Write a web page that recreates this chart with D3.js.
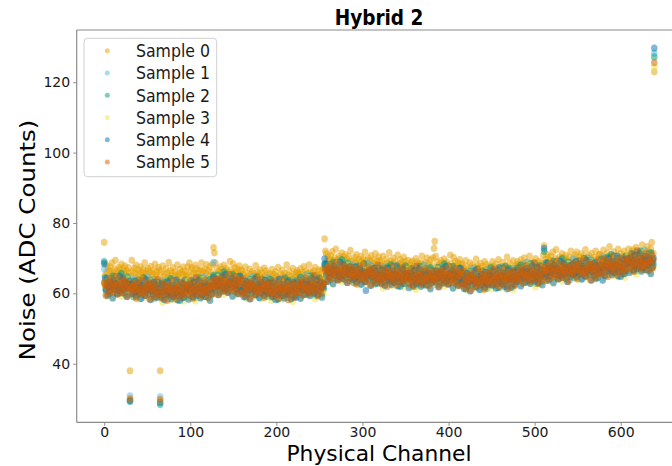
<!DOCTYPE html>
<html><head><meta charset="utf-8">
<script src="https://cdn.jsdelivr.net/npm/d3@7"></script>
<style>body{margin:0;background:#fff}svg{display:block}</style>
</head><body>
<svg id="chart" width="672" height="466"></svg>
<script>
const seriesNames = ["Sample 0","Sample 1","Sample 2","Sample 3","Sample 4","Sample 5"];
const seriesColors = ["#E69F00","#56B4E9","#009E73","#F0E442","#0072B2","#D55E00"];
const xTicks = [0,100,200,300,400,500,600];
const yTicks = [40,60,80,100,120];

const sample0Rows = [
[74.5,65.1,68.1,65.9,67.2,63.7,66.4,67.6,65.5,68.7,66.1,64.8,66.9,69.4,65.4,66.3,64.4,67.4,66.7,65.7,68.3,63.3,67.1,66.2,67.8,65.2,66.5,64.1,67.3,65.8,38.0,64.9],
[69.4,66.3,63.7,67.2,65.8,68.0,64.5,65.5,66.6,63.0,67.5,66.0,64.9,66.8,65.7,68.7,64.2,66.4,65.4,67.0,63.4,66.1,67.7,64.8,65.6,66.5,64.0,68.3,65.2,66.2,64.7,67.4],
[66.6,38.0,66.1,63.8,67.8,64.7,65.5,63.0,67.0,65.9,64.4,68.8,65.0,66.4,64.1,65.7,67.3,63.5,66.2,65.2,64.5,68.1,64.8,65.6,66.8,63.2,66.0,65.4,67.5,64.0,66.3,64.9],
[65.5,67.5,64.9,68.7,63.0,66.8,67.3,65.3,65.9,64.1,68.0,65.6,67.0,64.7,66.4,63.7,66.7,68.7,65.2,66.2,64.4,66.9,65.7,68.2,64.0,66.5,65.0,67.6,66.0,63.3,68.3,73.0],
[71.5,68.7,65.5,67.0,63.8,66.2,64.9,67.5,65.9,66.8,63.0,68.0,65.4,66.4,67.1,64.1,66.0,65.1,69.1,66.6,64.5,65.8,68.4,65.2,67.3,66.1,63.4,66.9,65.6,67.8,64.8,66.3],
[66.6,63.9,65.4,64.4,67.5,63.2,65.7,64.8,64.0,66.9,65.3,62.6,66.2,64.6,65.6,63.4,67.9,64.9,66.0,64.1,65.2,66.7,62.2,65.8,64.7,63.7,67.2,65.0,66.4,62.9,65.5,64.3],
[64.2,65.6,63.3,66.8,64.7,65.3,62.5,66.1,64.9,64.1,67.4,63.8,64.5,65.5,62.8,66.6,65.0,63.4,65.7,64.3,68.1,63.7,65.2,66.3,62.3,64.8,64.0,67.1,63.1,65.4,64.6,65.9],
[66.5,65.7,62.7,65.4,67.0,64.4,65.9,63.4,67.6,65.1,66.3,63.8,65.6,64.6,68.1,66.1,63.1,65.8,64.1,66.4,65.0,67.4,63.5,65.3,64.7,66.7,66.2,62.4,65.5,64.3,66.9,64.9],
[75.5,72.0,71.3,69.1,70.4,66.9,69.6,70.8,68.7,71.9,69.3,68.0,70.1,72.6,68.6,69.5,67.6,70.6,69.9,68.9,71.5,66.5,70.3,69.4,71.0,68.4,69.7,67.3,70.5,69.0,72.2,68.1],
[68.1,69.3,66.7,70.2,68.8,71.0,67.5,68.5,69.6,66.0,70.5,69.0,67.9,69.8,68.7,71.7,67.2,69.4,68.4,70.0,66.4,69.1,70.7,67.8,68.6,69.5,67.0,71.3,68.2,69.2,67.7,70.4],
[69.4,68.1,68.9,66.6,70.6,67.5,68.3,65.8,69.8,68.7,67.2,71.6,67.8,69.2,66.9,68.5,70.1,66.3,69.0,68.0,67.3,70.9,67.6,68.4,69.6,66.0,68.8,68.2,70.3,66.8,69.1,67.7],
[67.4,69.4,66.8,68.0,64.9,68.7,69.2,67.2,67.8,66.0,69.9,67.5,68.9,66.6,68.3,65.6,68.6,70.6,67.1,68.1,66.3,68.8,67.6,70.1,65.9,68.4,66.9,69.5,67.9,65.2,70.1,72.8],
[74.8,70.5,67.3,68.8,65.6,68.0,66.7,69.3,67.7,68.6,64.8,69.8,67.2,68.2,68.9,65.9,67.8,66.9,70.9,68.4,66.3,67.6,70.2,67.0,69.1,67.9,65.2,68.7,67.4,69.6,66.6,68.1],
[68.4,65.7,67.2,66.2,69.3,65.0,67.5,66.6,65.8,68.7,67.1,64.4,68.0,66.4,67.4,65.2,69.7,66.7,67.8,65.9,67.0,68.5,64.0,67.6,66.5,65.5,69.0,66.8,68.2,64.7,67.3,66.1],
[66.4,67.8,65.5,69.0,66.9,67.5,64.7,68.3,67.1,66.3,69.6,66.0,66.7,67.7,65.0,68.8,67.2,65.6,67.9,66.5,70.3,65.9,67.4,68.5,64.5,67.0,66.2,69.3,65.3,67.6,66.8,68.1],
[69.0,68.2,65.2,67.9,69.5,66.9,68.4,65.9,70.1,67.6,68.8,66.3,68.1,67.1,70.6,68.6,65.6,68.3,66.6,68.9,67.5,69.9,66.0,67.8,67.2,69.2,68.7,64.9,68.0,66.8,70.8,73.5],
[69.6,68.1,71.1,68.9,70.2,66.7,69.4,70.6,68.5,71.7,69.1,67.8,69.9,72.4,68.4,69.3,67.4,70.4,69.7,68.7,71.3,66.3,70.1,69.2,70.8,68.2,69.5,67.1,70.3,68.8,72.0,67.9],
[68.8,70.0,67.4,70.9,69.5,71.7,68.2,69.2,70.3,66.7,71.2,69.7,68.6,70.5,69.4,72.4,67.9,70.1,69.1,70.7,67.1,69.8,71.4,68.5,69.3,70.2,67.7,72.0,68.9,69.9,68.4,71.1],
[71.1,69.8,70.6,68.3,72.3,69.2,70.0,67.5,71.5,70.4,68.9,73.3,69.5,70.9,68.6,70.2,71.8,68.0,70.7,69.7,69.0,72.6,69.3,70.1,71.3,67.7,70.5,69.9,72.0,68.5,70.8,69.4],
[70.6,72.6,70.0,71.2,68.1,71.9,72.4,70.4,71.0,69.2,73.1,70.7,72.1,69.8,71.5,68.8,71.8,73.8,70.3,71.3,69.5,72.0,70.8,73.3,69.1,71.6,70.1,72.7,74.5,68.4,71.4,123.0]
];
const sample1Rows = [
[67.0,63.8,61.2,62.4,59.3,63.1,63.6,61.6,62.2,60.4,64.3,61.9,63.3,61.0,62.7,60.0,63.0,65.0,61.5,62.5,60.7,63.2,62.0,64.5,60.3,62.8,61.3,63.9,62.3,59.6,30.9,63.4],
[60.1,64.2,61.0,62.5,59.3,61.7,60.4,63.0,61.4,62.3,58.5,63.5,60.9,61.9,62.6,59.6,61.5,60.6,64.6,62.1,60.0,61.3,63.9,60.7,62.8,61.6,58.9,62.4,61.1,63.3,60.3,61.8],
[62.6,30.6,61.4,60.4,63.5,59.2,61.7,60.8,60.0,62.9,61.3,58.6,62.2,60.6,61.6,59.4,63.9,60.9,62.0,60.1,61.2,62.7,58.2,61.8,60.7,59.7,63.2,61.0,62.4,58.9,61.5,60.3],
[60.8,62.2,59.9,63.4,61.3,61.9,59.1,62.7,61.5,60.7,64.0,60.4,61.1,62.1,59.4,63.2,61.6,60.0,62.3,60.9,64.7,60.3,61.8,62.9,58.9,61.4,60.6,63.7,59.7,62.0,61.2,68.8],
[63.9,63.1,60.1,62.8,64.4,61.8,63.3,60.8,65.0,62.5,63.7,61.2,63.0,62.0,65.5,63.5,60.5,63.2,61.5,63.8,62.4,64.8,60.9,62.7,62.1,64.1,63.6,59.8,62.9,61.7,64.3,62.3],
[62.0,60.5,63.5,61.3,62.6,59.1,61.8,63.0,60.9,64.1,61.5,60.2,62.3,64.8,60.8,61.7,59.8,62.8,62.1,61.1,63.7,58.7,62.5,61.6,63.2,60.6,61.9,59.5,62.7,61.2,64.4,60.3],
[60.5,61.7,59.1,62.6,61.2,63.4,59.9,60.9,62.0,58.4,62.9,61.4,60.3,62.2,61.1,64.1,59.6,61.8,60.8,62.4,58.8,61.5,63.1,60.2,61.0,61.9,59.4,63.7,60.6,61.6,60.1,62.8],
[63.1,61.8,62.6,60.3,64.3,61.2,62.0,59.5,63.5,62.4,60.9,65.3,61.5,62.9,60.6,62.2,63.8,60.0,62.7,61.7,61.0,64.6,61.3,62.1,63.3,59.7,62.5,61.9,64.0,60.5,62.8,61.4],
[68.3,67.8,65.2,66.4,63.3,67.1,67.6,65.6,66.2,64.4,68.3,65.9,67.3,65.0,66.7,64.0,67.0,69.0,65.5,66.5,64.7,67.2,66.0,68.5,64.3,66.8,65.3,67.9,66.3,63.6,66.6,67.4],
[64.1,68.2,65.0,66.5,63.3,65.7,64.4,67.0,65.4,66.3,62.5,67.5,64.9,65.9,66.6,63.6,65.5,64.6,68.6,66.1,64.0,65.3,67.9,64.7,66.8,65.6,62.9,66.4,65.1,67.3,64.3,65.8],
[66.6,63.9,65.4,64.4,67.5,63.2,65.7,64.8,64.0,66.9,65.3,62.6,66.2,64.6,65.6,63.4,67.9,64.9,66.0,64.1,65.2,66.7,62.2,65.8,64.7,63.7,67.2,65.0,66.4,62.9,65.5,64.3],
[64.1,65.5,63.2,66.7,64.6,65.2,62.4,66.0,64.8,64.0,67.3,63.7,64.4,65.4,62.7,66.5,64.9,63.3,65.6,64.2,68.0,63.6,65.1,66.2,62.2,64.7,63.9,67.0,63.0,65.3,64.5,65.8],
[66.2,65.4,62.4,65.1,66.7,64.1,65.6,63.1,67.3,64.8,66.0,63.5,65.3,64.3,67.8,65.8,62.8,65.5,63.8,66.1,64.7,67.1,63.2,65.0,64.4,66.4,65.9,62.1,65.2,64.0,66.6,64.6],
[64.3,62.8,65.8,63.6,64.9,61.4,64.1,65.3,63.2,66.4,63.8,62.5,64.6,67.1,63.1,64.0,62.1,65.1,64.4,63.4,66.0,61.0,64.8,63.9,65.5,62.9,64.2,61.8,65.0,63.5,66.7,62.6],
[63.8,65.0,62.4,65.9,64.5,66.7,63.2,64.2,65.3,61.7,66.2,64.7,63.6,65.5,64.4,67.4,62.9,65.1,64.1,65.7,62.1,64.8,66.4,63.5,64.3,65.2,62.7,67.0,63.9,64.9,63.4,66.1],
[66.6,65.3,66.1,63.8,67.8,64.7,65.5,63.0,67.0,65.9,64.4,68.8,65.0,66.4,64.1,65.7,67.3,63.5,66.2,65.2,64.5,68.1,64.8,65.6,66.8,63.2,66.0,65.4,67.5,64.0,66.3,64.9],
[66.1,68.1,65.5,66.7,63.6,67.4,67.9,65.9,66.5,64.7,68.6,66.2,67.6,65.3,67.0,64.3,67.3,69.3,65.8,66.8,65.0,67.5,66.3,68.8,64.6,67.1,65.6,68.2,66.6,63.9,66.9,67.7],
[65.6,69.7,66.5,68.0,64.8,67.2,65.9,68.5,66.9,67.8,64.0,69.0,66.4,67.4,68.1,65.1,67.0,66.1,70.1,67.6,65.5,66.8,69.4,66.2,68.3,67.1,64.4,67.9,66.6,68.8,65.8,67.3],
[69.4,66.7,68.2,67.2,70.3,66.0,68.5,67.6,66.8,69.7,68.1,65.4,69.0,67.4,68.4,66.2,70.7,67.7,68.8,66.9,68.0,69.5,65.0,68.6,67.5,66.5,70.0,67.8,69.2,65.7,68.3,67.1],
[68.4,69.8,67.5,71.0,68.9,69.5,66.7,70.3,69.1,68.3,71.6,68.0,68.7,69.7,67.0,70.8,69.2,67.6,69.9,68.5,72.3,67.9,69.4,70.5,66.5,69.0,68.2,71.3,67.3,69.6,68.8,128.3]
];
const sample2Rows = [
[69.0,63.1,60.8,64.3,62.2,62.8,60.0,63.6,62.4,61.6,64.9,61.3,62.0,63.0,60.3,64.1,62.5,60.9,63.2,61.8,65.6,61.2,62.7,63.8,59.8,62.3,61.5,64.6,60.6,62.9,29.3,63.4],
[62.8,62.0,59.0,61.7,63.3,60.7,62.2,59.7,63.9,61.4,62.6,60.1,61.9,60.9,64.4,62.4,59.4,62.1,60.4,62.7,61.3,63.7,59.8,61.6,61.0,63.0,62.5,58.7,61.8,60.6,63.2,61.2],
[61.4,28.4,62.9,60.7,62.0,58.5,61.2,62.4,60.3,63.5,60.9,59.6,61.7,64.2,60.2,61.1,59.2,62.2,61.5,60.5,63.1,58.1,61.9,61.0,62.6,60.0,61.3,58.9,62.1,60.6,63.8,59.7],
[60.8,62.0,59.4,62.9,61.5,63.7,60.2,61.2,62.3,58.7,63.2,61.7,60.6,62.5,61.4,64.4,59.9,62.1,61.1,62.7,59.1,61.8,63.4,60.5,61.3,62.2,59.7,64.0,60.9,61.9,60.4,65.1],
[63.9,62.6,63.4,61.1,65.1,62.0,62.8,60.3,64.3,63.2,61.7,66.1,62.3,63.7,61.4,63.0,64.6,60.8,63.5,62.5,61.8,65.4,62.1,62.9,64.1,60.5,63.3,62.7,64.8,61.3,63.6,62.2],
[61.4,63.4,60.8,62.0,58.9,62.7,63.2,61.2,61.8,60.0,63.9,61.5,62.9,60.6,62.3,59.6,62.6,64.6,61.1,62.1,60.3,62.8,61.6,64.1,59.9,62.4,60.9,63.5,61.9,59.2,62.2,63.0],
[59.9,64.0,60.8,62.3,59.1,61.5,60.2,62.8,61.2,62.1,58.3,63.3,60.7,61.7,62.4,59.4,61.3,60.4,64.4,61.9,59.8,61.1,63.7,60.5,62.6,61.4,58.7,62.2,60.9,63.1,60.1,61.6],
[63.7,61.0,62.5,61.5,64.6,60.3,62.8,61.9,61.1,64.0,62.4,59.7,63.3,61.7,62.7,60.5,65.0,62.0,63.1,61.2,62.3,63.8,59.3,62.9,61.8,60.8,64.3,62.1,63.5,60.0,62.6,61.4],
[68.2,67.1,64.8,68.3,66.2,66.8,64.0,67.6,66.4,65.6,68.9,65.3,66.0,67.0,64.3,68.1,66.5,64.9,67.2,65.8,69.6,65.2,66.7,67.8,63.8,66.3,65.5,68.6,64.6,66.9,66.1,67.4],
[66.8,66.0,63.0,65.7,67.3,64.7,66.2,63.7,67.9,65.4,66.6,64.1,65.9,64.9,68.4,66.4,63.4,66.1,64.4,66.7,65.3,67.7,63.8,65.6,65.0,67.0,66.5,62.7,65.8,64.6,67.2,65.2],
[65.4,63.9,66.9,64.7,66.0,62.5,65.2,66.4,64.3,67.5,64.9,63.6,65.7,68.2,64.2,65.1,63.2,66.2,65.5,64.5,67.1,62.1,65.9,65.0,66.6,64.0,65.3,62.9,66.1,64.6,67.8,63.7],
[64.1,65.3,62.7,66.2,64.8,67.0,63.5,64.5,65.6,62.0,66.5,65.0,63.9,65.8,64.7,67.7,63.2,65.4,64.4,66.0,62.4,65.1,66.7,63.8,64.6,65.5,63.0,67.3,64.2,65.2,63.7,66.4],
[66.2,64.9,65.7,63.4,67.4,64.3,65.1,62.6,66.6,65.5,64.0,68.4,64.6,66.0,63.7,65.3,66.9,63.1,65.8,64.8,64.1,67.7,64.4,65.2,66.4,62.8,65.6,65.0,67.1,63.6,65.9,64.5],
[63.7,65.7,63.1,64.3,61.2,65.0,65.5,63.5,64.1,62.3,66.2,63.8,65.2,62.9,64.6,61.9,64.9,66.9,63.4,64.4,62.6,65.1,63.9,66.4,62.2,64.7,63.2,65.8,64.2,61.5,64.5,65.3],
[63.2,67.3,64.1,65.6,62.4,64.8,63.5,66.1,64.5,65.4,61.6,66.6,64.0,65.0,65.7,62.7,64.6,63.7,67.7,65.2,63.1,64.4,67.0,63.8,65.9,64.7,62.0,65.5,64.2,66.4,63.4,64.9],
[67.2,64.5,66.0,65.0,68.1,63.8,66.3,65.4,64.6,67.5,65.9,63.2,66.8,65.2,66.2,64.0,68.5,65.5,66.6,64.7,65.8,67.3,62.8,66.4,65.3,64.3,67.8,65.6,67.0,63.5,66.1,72.0],
[66.0,67.4,65.1,68.6,66.5,67.1,64.3,67.9,66.7,65.9,69.2,65.6,66.3,67.3,64.6,68.4,66.8,65.2,67.5,66.1,69.9,65.5,67.0,68.1,64.1,66.6,65.8,68.9,64.9,67.2,66.4,67.7],
[68.3,67.5,64.5,67.2,68.8,66.2,67.7,65.2,69.4,66.9,68.1,65.6,67.4,66.4,69.9,67.9,64.9,67.6,65.9,68.2,66.8,69.2,65.3,67.1,66.5,68.5,68.0,64.2,67.3,66.1,68.7,66.7],
[68.2,66.7,69.7,67.5,68.8,65.3,68.0,69.2,67.1,70.3,67.7,66.4,68.5,71.0,67.0,67.9,66.0,69.0,68.3,67.3,69.9,64.9,68.7,67.8,69.4,66.8,68.1,65.7,68.9,67.4,70.6,66.5],
[68.4,69.6,67.0,70.5,69.1,71.3,67.8,68.8,69.9,66.3,70.8,69.3,68.2,70.1,69.0,72.0,67.5,69.7,68.7,70.3,66.7,69.4,71.0,68.1,68.9,69.8,67.3,71.6,68.5,69.5,68.0,127.2]
];
const sample3Rows = [
[63.2,62.1,59.5,63.0,61.6,63.8,60.3,61.3,62.4,58.8,63.3,61.8,60.7,62.6,61.5,64.5,60.0,62.2,61.2,62.8,59.2,61.9,63.5,60.6,61.4,62.3,59.8,64.1,61.0,62.0,30.0,63.2],
[62.0,60.7,61.5,59.2,63.2,60.1,60.9,58.4,62.4,61.3,59.8,64.2,60.4,61.8,59.5,61.1,62.7,58.9,61.6,60.6,59.9,63.5,60.2,61.0,62.2,58.6,61.4,60.8,62.9,59.4,61.7,60.3],
[60.0,29.6,59.4,60.6,57.5,61.3,61.8,59.8,60.4,58.6,62.5,60.1,61.5,59.2,60.9,58.2,61.2,63.2,59.7,60.7,58.9,61.4,60.2,62.7,58.5,61.0,59.5,62.1,60.5,57.8,60.8,61.6],
[59.4,63.5,60.3,61.8,58.6,61.0,59.7,62.3,60.7,61.6,57.8,62.8,60.2,61.2,61.9,58.9,60.8,59.9,63.9,61.4,59.3,60.6,63.2,60.0,62.1,60.9,58.2,61.7,60.4,62.6,59.6,62.4],
[63.7,61.0,62.5,61.5,64.6,60.3,62.8,61.9,61.1,64.0,62.4,59.7,63.3,61.7,62.7,60.5,65.0,62.0,63.1,61.2,62.3,63.8,59.3,62.9,61.8,60.8,64.3,62.1,63.5,60.0,62.6,61.4],
[60.5,61.9,59.6,63.1,61.0,61.6,58.8,62.4,61.2,60.4,63.7,60.1,60.8,61.8,59.1,62.9,61.3,59.7,62.0,60.6,64.4,60.0,61.5,62.6,58.6,61.1,60.3,63.4,59.4,61.7,60.9,62.2],
[61.8,61.0,58.0,60.7,62.3,59.7,61.2,58.7,62.9,60.4,61.6,59.1,60.9,59.9,63.4,61.4,58.4,61.1,59.4,61.7,60.3,62.7,58.8,60.6,60.0,62.0,61.5,57.7,60.8,59.6,62.2,60.2],
[61.7,60.2,63.2,61.0,62.3,58.8,61.5,62.7,60.6,63.8,61.2,59.9,62.0,64.5,60.5,61.4,59.5,62.5,61.8,60.8,63.4,58.4,62.2,61.3,62.9,60.3,61.6,59.2,62.4,60.9,64.1,60.0],
[64.9,66.1,63.5,67.0,65.6,67.8,64.3,65.3,66.4,62.8,67.3,65.8,64.7,66.6,65.5,68.5,64.0,66.2,65.2,66.8,63.2,65.9,67.5,64.6,65.4,66.3,63.8,68.1,65.0,66.0,64.5,67.2],
[66.0,64.7,65.5,63.2,67.2,64.1,64.9,62.4,66.4,65.3,63.8,68.2,64.4,65.8,63.5,65.1,66.7,62.9,65.6,64.6,63.9,67.5,64.2,65.0,66.2,62.6,65.4,64.8,66.9,63.4,65.7,64.3],
[64.0,66.0,63.4,64.6,61.5,65.3,65.8,63.8,64.4,62.6,66.5,64.1,65.5,63.2,64.9,62.2,65.2,67.2,63.7,64.7,62.9,65.4,64.2,66.7,62.5,65.0,63.5,66.1,64.5,61.8,64.8,65.6],
[62.7,66.8,63.6,65.1,61.9,64.3,63.0,65.6,64.0,64.9,61.1,66.1,63.5,64.5,65.2,62.2,64.1,63.2,67.2,64.7,62.6,63.9,66.5,63.3,65.4,64.2,61.5,65.0,63.7,65.9,62.9,64.4],
[66.0,63.3,64.8,63.8,66.9,62.6,65.1,64.2,63.4,66.3,64.7,62.0,65.6,64.0,65.0,62.8,67.3,64.3,65.4,63.5,64.6,66.1,61.6,65.2,64.1,63.1,66.6,64.4,65.8,62.3,64.9,63.7],
[62.8,64.2,61.9,65.4,63.3,63.9,61.1,64.7,63.5,62.7,66.0,62.4,63.1,64.1,61.4,65.2,63.6,62.0,64.3,62.9,66.7,62.3,63.8,64.9,60.9,63.4,62.6,65.7,61.7,64.0,63.2,64.5],
[65.1,64.3,61.3,64.0,65.6,63.0,64.5,62.0,66.2,63.7,64.9,62.4,64.2,63.2,66.7,64.7,61.7,64.4,62.7,65.0,63.6,66.0,62.1,63.9,63.3,65.3,64.8,61.0,64.1,62.9,65.5,63.5],
[65.2,63.7,66.7,64.5,65.8,62.3,65.0,66.2,64.1,67.3,64.7,63.4,65.5,68.0,64.0,64.9,63.0,66.0,65.3,64.3,66.9,61.9,65.7,64.8,66.4,63.8,65.1,62.7,65.9,64.4,67.6,63.5],
[65.2,66.4,63.8,67.3,65.9,68.1,64.6,65.6,66.7,63.1,67.6,66.1,65.0,66.9,65.8,68.8,64.3,66.5,65.5,67.1,63.5,66.2,67.8,64.9,65.7,66.6,64.1,68.4,65.3,66.3,64.8,67.5],
[67.5,66.2,67.0,64.7,68.7,65.6,66.4,63.9,67.9,66.8,65.3,69.7,65.9,67.3,65.0,66.6,68.2,64.4,67.1,66.1,65.4,69.0,65.7,66.5,67.7,64.1,66.9,66.3,68.4,64.9,67.2,65.8],
[66.8,68.8,66.2,67.4,64.3,68.1,68.6,66.6,67.2,65.4,69.3,66.9,68.3,66.0,67.7,65.0,68.0,70.0,66.5,67.5,65.7,68.2,67.0,69.5,65.3,67.8,66.3,68.9,67.3,64.6,67.6,68.4],
[67.0,71.1,67.9,69.4,66.2,68.6,67.3,69.9,68.3,69.2,65.4,70.4,67.8,68.8,69.5,66.5,68.4,67.5,71.5,69.0,66.9,68.2,70.8,67.6,69.7,68.5,65.8,69.3,68.0,70.2,67.2,124.4]
];
const sample4Rows = [
[68.5,64.4,61.2,62.7,59.5,61.9,60.6,63.2,61.6,62.5,58.7,63.7,61.1,62.1,62.8,59.8,61.7,60.8,64.8,62.3,60.2,61.5,64.1,60.9,63.0,61.8,59.1,62.6,61.3,63.5,29.5,62.0],
[62.6,59.9,61.4,60.4,63.5,59.2,61.7,60.8,60.0,62.9,61.3,58.6,62.2,60.6,61.6,59.4,63.9,60.9,62.0,60.1,61.2,62.7,58.2,61.8,60.7,59.7,63.2,61.0,62.4,58.9,61.5,60.3],
[59.9,29.0,59.0,62.5,60.4,61.0,58.2,61.8,60.6,59.8,63.1,59.5,60.2,61.2,58.5,62.3,60.7,59.1,61.4,60.0,63.8,59.4,60.9,62.0,58.0,60.5,59.7,62.8,58.8,61.1,60.3,61.6],
[62.1,61.3,58.3,61.0,62.6,60.0,61.5,59.0,63.2,60.7,61.9,59.4,61.2,60.2,63.7,61.7,58.7,61.4,59.7,62.0,60.6,63.0,59.1,60.9,60.3,62.3,61.8,58.0,61.1,59.9,62.5,64.6],
[62.5,61.0,64.0,61.8,63.1,59.6,62.3,63.5,61.4,64.6,62.0,60.7,62.8,65.3,61.3,62.2,60.3,63.3,62.6,61.6,64.2,59.2,63.0,62.1,63.7,61.1,62.4,60.0,63.2,61.7,64.9,60.8],
[60.5,61.7,59.1,62.6,61.2,63.4,59.9,60.9,62.0,58.4,62.9,61.4,60.3,62.2,61.1,64.1,59.6,61.8,60.8,62.4,58.8,61.5,63.1,60.2,61.0,61.9,59.4,63.7,60.6,61.6,60.1,62.8],
[61.8,60.5,61.3,59.0,63.0,59.9,60.7,58.2,62.2,61.1,59.6,64.0,60.2,61.6,59.3,60.9,62.5,58.7,61.4,60.4,59.7,63.3,60.0,60.8,62.0,58.4,61.2,60.6,62.7,59.2,61.5,58.9],
[61.1,63.1,60.5,61.7,58.6,62.4,62.9,60.9,61.5,59.7,63.6,61.2,62.6,60.3,62.0,59.3,62.3,64.3,60.8,61.8,60.0,62.5,61.3,63.8,59.6,62.1,60.6,63.2,61.6,58.9,61.9,62.7],
[69.8,68.4,65.2,66.7,63.5,65.9,64.6,67.2,65.6,66.5,62.7,67.7,65.1,66.1,66.8,63.8,65.7,64.8,68.8,66.3,64.2,65.5,68.1,64.9,67.0,65.8,63.1,66.6,65.3,67.5,64.5,66.0],
[66.6,63.9,65.4,64.4,67.5,63.2,65.7,64.8,64.0,66.9,65.3,62.6,66.2,64.6,65.6,63.4,60.8,64.9,66.0,64.1,65.2,66.7,62.2,65.8,64.7,63.7,67.2,65.0,66.4,62.9,65.5,64.3],
[63.9,65.3,63.0,66.5,64.4,65.0,62.2,65.8,64.6,63.8,67.1,63.5,64.2,65.2,62.5,66.3,64.7,63.1,65.4,64.0,67.8,63.4,64.9,66.0,62.0,64.5,63.7,66.8,62.8,65.1,64.3,65.6],
[65.4,64.6,61.6,64.3,65.9,63.3,64.8,62.3,66.5,64.0,65.2,62.7,64.5,63.5,67.0,65.0,62.0,64.7,63.0,65.3,63.9,66.3,62.4,64.2,63.6,65.6,65.1,61.3,64.4,63.2,65.8,63.8],
[64.8,63.3,66.3,64.1,65.4,61.9,64.6,65.8,63.7,66.9,64.3,63.0,65.1,67.6,63.6,64.5,62.6,65.6,64.9,63.9,66.5,61.5,65.3,64.4,66.0,63.4,64.7,62.3,65.5,64.0,67.2,63.1],
[62.8,64.0,61.4,64.9,63.5,65.7,62.2,63.2,64.3,60.7,65.2,63.7,62.6,64.5,63.4,66.4,61.9,64.1,63.1,64.7,61.1,63.8,65.4,62.5,63.3,64.2,61.7,66.0,62.9,63.9,62.4,65.1],
[65.1,63.8,64.6,62.3,66.3,63.2,64.0,61.5,65.5,64.4,62.9,67.3,63.5,64.9,62.6,64.2,65.8,62.0,64.7,63.7,61.3,66.6,63.3,64.1,65.3,61.7,64.5,63.9,66.0,62.5,64.8,63.4],
[64.6,66.6,64.0,65.2,62.1,65.9,66.4,64.4,65.0,63.2,67.1,64.7,66.1,63.8,65.5,62.8,65.8,67.8,64.3,65.3,63.5,66.0,64.8,67.3,63.1,65.6,64.1,66.7,65.1,62.4,65.4,72.8],
[64.6,68.7,65.5,67.0,63.8,66.2,64.9,67.5,65.9,66.8,63.0,68.0,65.4,66.4,67.1,64.1,66.0,65.1,69.1,66.6,64.5,65.8,68.4,65.2,67.3,66.1,63.4,66.9,65.6,67.8,64.8,66.3],
[68.1,65.4,66.9,65.9,69.0,64.7,67.2,66.3,65.5,68.4,66.8,64.1,67.7,66.1,67.1,64.9,69.4,66.4,67.5,65.6,66.7,68.2,63.7,67.3,66.2,65.2,68.7,66.5,67.9,64.4,67.0,65.8],
[66.7,68.1,65.8,63.7,67.2,67.8,65.0,68.6,67.4,66.6,69.9,66.3,67.0,68.0,65.3,69.1,67.5,65.9,68.2,66.8,70.6,66.2,67.7,68.8,64.8,67.3,66.5,69.6,65.6,67.9,67.1,68.4],
[69.7,68.9,65.9,68.6,70.2,67.6,69.1,66.6,70.8,68.3,69.5,67.0,68.8,67.8,71.3,69.3,66.3,69.0,67.3,69.6,68.2,70.6,66.7,68.5,67.9,69.9,69.4,65.6,68.7,67.5,70.1,129.7]
];
const sample5Rows = [
[63.0,62.4,59.4,62.1,63.7,61.1,62.6,60.1,64.3,61.8,63.0,60.5,62.3,61.3,64.8,62.8,59.8,62.5,60.8,63.1,61.7,64.1,60.2,62.0,61.4,63.4,62.9,59.1,62.2,61.0,30.0,61.6],
[61.6,60.1,63.1,60.9,62.2,58.7,61.4,62.6,60.5,63.7,61.1,59.8,61.9,64.4,60.4,61.3,59.4,62.4,61.7,60.7,63.3,58.3,62.1,61.2,62.8,60.2,61.5,59.1,62.3,60.8,64.0,59.9],
[60.1,29.8,58.7,62.2,60.8,63.0,59.5,60.5,61.6,58.0,62.5,61.0,59.9,61.8,60.7,63.7,59.2,61.4,60.4,62.0,58.4,61.1,62.7,59.8,60.6,61.5,59.0,63.3,60.2,61.2,59.7,62.4],
[62.3,61.0,61.8,59.5,63.5,60.4,61.2,58.7,62.7,61.6,60.1,64.5,60.7,62.1,59.8,61.4,63.0,59.2,61.9,60.9,60.2,63.8,60.5,61.3,62.5,58.9,61.7,61.1,63.2,59.7,62.0,63.8],
[62.1,64.1,61.5,62.7,59.6,63.4,63.9,61.9,62.5,60.7,64.6,62.2,63.6,61.3,63.0,60.3,63.3,65.3,61.8,62.8,61.0,63.5,62.3,64.8,60.6,63.1,61.6,64.2,62.6,59.9,62.9,63.7],
[60.1,64.2,61.0,62.5,59.3,61.7,60.4,63.0,61.4,62.3,58.5,63.5,60.9,61.9,62.6,59.6,61.5,60.6,64.6,62.1,60.0,61.3,63.9,60.7,62.8,61.6,58.9,62.4,61.1,63.3,60.3,61.8],
[62.6,59.9,61.4,60.4,63.5,59.2,61.7,60.8,60.0,62.9,61.3,58.6,62.2,60.6,61.6,59.4,63.9,60.9,62.0,60.1,61.2,62.7,58.2,61.8,60.7,59.7,63.2,61.0,62.4,58.9,61.5,60.3],
[61.2,62.6,60.3,63.8,61.7,62.3,59.5,63.1,61.9,61.1,64.4,60.8,61.5,62.5,59.8,63.6,62.0,60.4,62.7,61.3,65.1,60.7,62.2,63.3,59.3,61.8,61.0,64.1,60.1,62.4,61.6,62.9],
[67.2,66.4,63.4,66.1,67.7,65.1,66.6,64.1,68.3,65.8,67.0,64.5,66.3,65.3,68.8,66.8,63.8,66.5,64.8,67.1,65.7,68.1,64.2,66.0,65.4,67.4,66.9,63.1,66.2,65.0,67.6,65.6],
[65.6,64.1,67.1,64.9,66.2,62.7,65.4,66.6,64.5,67.7,65.1,63.8,65.9,68.4,64.4,65.3,63.4,66.4,65.7,64.7,67.3,62.3,66.1,65.2,66.8,64.2,65.5,63.1,66.3,64.8,68.0,63.9],
[64.1,65.3,62.7,66.2,64.8,67.0,63.5,64.5,65.6,62.0,66.5,65.0,63.9,65.8,64.7,67.7,63.2,65.4,64.4,66.0,62.4,65.1,66.7,63.8,64.6,65.5,63.0,67.3,64.2,65.2,63.7,66.4],
[65.6,64.3,65.1,62.8,66.8,63.7,64.5,62.0,66.0,64.9,63.4,67.8,64.0,65.4,63.1,64.7,66.3,62.5,65.2,64.2,63.5,67.1,63.8,64.6,65.8,62.2,65.0,64.4,66.5,63.0,65.3,63.9],
[64.4,66.4,63.8,65.0,61.9,65.7,66.2,64.2,64.8,63.0,66.9,64.5,65.9,63.6,65.3,62.6,65.6,67.6,64.1,65.1,63.3,65.8,64.6,67.1,62.9,65.4,63.9,66.5,64.9,62.2,65.2,66.0],
[62.4,66.5,63.3,64.8,61.6,64.0,62.7,65.3,63.7,64.6,60.8,65.8,63.2,64.2,64.9,61.9,63.8,62.9,66.9,64.4,62.3,63.6,66.2,63.0,65.1,63.9,61.2,64.7,63.4,65.6,62.6,64.1],
[65.9,63.2,64.7,63.7,66.8,62.5,65.0,64.1,63.3,66.2,64.6,61.9,65.5,63.9,64.9,62.7,67.2,64.2,65.3,63.4,64.5,66.0,61.5,65.1,64.0,63.0,66.5,64.3,65.7,62.2,64.8,63.6],
[64.7,66.1,63.8,67.3,65.2,65.8,63.0,66.6,65.4,64.6,67.9,64.3,65.0,66.0,63.3,67.1,65.5,63.9,66.2,64.8,68.6,64.2,65.7,66.8,62.8,65.3,64.5,67.6,63.6,65.9,65.1,66.4],
[67.5,66.7,63.7,66.4,68.0,65.4,66.9,64.4,68.6,66.1,67.3,64.8,66.6,65.6,69.1,67.1,64.1,66.8,65.1,67.4,66.0,68.4,64.5,66.3,65.7,67.7,67.2,63.4,66.5,65.3,67.9,65.9],
[67.1,65.6,68.6,66.4,67.7,64.2,66.9,68.1,66.0,69.2,66.6,65.3,67.4,69.9,65.9,66.8,64.9,67.9,67.2,66.2,68.8,63.8,67.6,66.7,68.3,65.7,67.0,64.6,67.8,66.3,69.5,65.4],
[66.9,68.1,65.5,69.0,67.6,69.8,66.3,67.3,68.4,64.8,69.3,67.8,66.7,68.6,67.5,70.5,66.0,68.2,67.2,68.8,65.2,67.9,69.5,66.6,67.4,68.3,65.8,70.1,67.0,68.0,66.5,69.2],
[69.9,68.6,69.4,67.1,71.1,68.0,68.8,66.3,70.3,69.2,67.7,72.1,68.3,69.7,67.4,69.0,70.6,66.8,69.5,68.5,67.8,71.4,68.1,68.9,70.1,66.5,69.3,68.7,71.1,67.3,69.6,125.6]
];

const allRows = [sample0Rows, sample1Rows, sample2Rows, sample3Rows, sample4Rows, sample5Rows];
const samples = allRows.map(r => r.flat());

const svg = d3.select("#chart");
const x = d3.scaleLinear().domain([-31.95, 670.95]).range([76.7, 681.8]);
const y = d3.scaleLinear().domain([23.35, 134.85]).range([422.3, 30]);
const FONT = "DejaVu Sans, sans-serif";
const spineColor = "#8c8c8c";

// points
samples.forEach((vals, si) => {
  svg.append("g")
    .selectAll("ellipse")
    .data(vals.map((v, i) => [i, v]))
    .join("ellipse")
    .attr("cx", d => x(d[0]))
    .attr("cy", d => y(d[1]))
    .attr("rx", 3.3)
    .attr("ry", 3.6)
    .attr("fill", seriesColors[si])
    .attr("fill-opacity", 0.5);
});

// axes
const xAxis = svg.append("g").attr("transform", "translate(0,422.3)")
  .call(d3.axisBottom(x).tickValues(xTicks).tickSize(3.5).tickPadding(0.3).tickFormat(d3.format("d")));
const yAxis = svg.append("g").attr("transform", "translate(76.7,0)")
  .call(d3.axisLeft(y).tickValues(yTicks).tickSize(3.5).tickPadding(3.5).tickFormat(d3.format("d")));
[xAxis, yAxis].forEach(g => {
  g.select(".domain").remove();
  g.selectAll(".tick line").attr("stroke", spineColor).attr("stroke-width", 1);
  g.selectAll(".tick text").attr("font-family", FONT).attr("font-size", 14.5).attr("fill", "#1a1a1a");
});
xAxis.selectAll(".tick text").attr("dy", "0.76em").attr("transform", "scale(0.97,1)");
yAxis.selectAll(".tick text").attr("transform", "translate(-6.5,0) scale(0.97,1)").attr("x", 0);

// spines
svg.append("line").attr("x1", 76.7).attr("x2", 76.7).attr("y1", 30).attr("y2", 422.3)
  .attr("stroke", spineColor).attr("stroke-width", 1.2);
svg.append("line").attr("x1", 76.7).attr("x2", 681.8).attr("y1", 422.3).attr("y2", 422.3)
  .attr("stroke", spineColor).attr("stroke-width", 1.2);
svg.append("line").attr("x1", 76.7).attr("x2", 681.8).attr("y1", 30).attr("y2", 30)
  .attr("stroke", spineColor).attr("stroke-width", 1.2);

// title
svg.append("text").attr("transform", "translate(379,25) scale(0.88,1)")
  .attr("text-anchor", "middle").attr("font-family", FONT).attr("font-weight", "bold")
  .attr("font-size", 21).attr("fill", "#000").text("Hybrid 2");

// axis labels
svg.append("text").attr("transform", "translate(379,460.8)")
  .attr("text-anchor", "middle").attr("font-family", FONT)
  .attr("font-size", 21.8).attr("fill", "#000").text("Physical Channel");
svg.append("text").attr("transform", "translate(35,240) rotate(-90) scale(1,0.88)")
  .attr("text-anchor", "middle").attr("font-family", FONT)
  .attr("font-size", 24.5).attr("fill", "#000").text("Noise (ADC Counts)");

// legend
const lg = svg.append("g");
lg.append("rect").attr("x", 84).attr("y", 38.3).attr("width", 132.7).attr("height", 138.4)
  .attr("rx", 3.5).attr("fill", "#fff").attr("fill-opacity", 0.8)
  .attr("stroke", "#d0d0d0").attr("stroke-width", 1);
seriesNames.forEach((name, i) => {
  const cy = 50.7 + i * 22.25;
  lg.append("circle").attr("cx", 107.3).attr("cy", cy).attr("r", 2.5)
    .attr("fill", seriesColors[i]).attr("fill-opacity", 0.5);
  lg.append("text").attr("transform", `translate(136,${cy}) scale(0.9,1)`)
    .attr("dy", "0.36em").attr("font-family", FONT).attr("font-size", 17.5)
    .attr("fill", "#1a1a1a").text(name);
});

// data check
const bad = [];
allRows.forEach((rows, si) => rows.forEach((r, ri) => { if (r.length !== 32) bad.push(`s${si} row${ri}: ${r.length}`); }));
if (bad.length) setTimeout(() => { throw new Error("Row length mismatch: " + bad.join("; ")); }, 0);
</script>
</body></html>
